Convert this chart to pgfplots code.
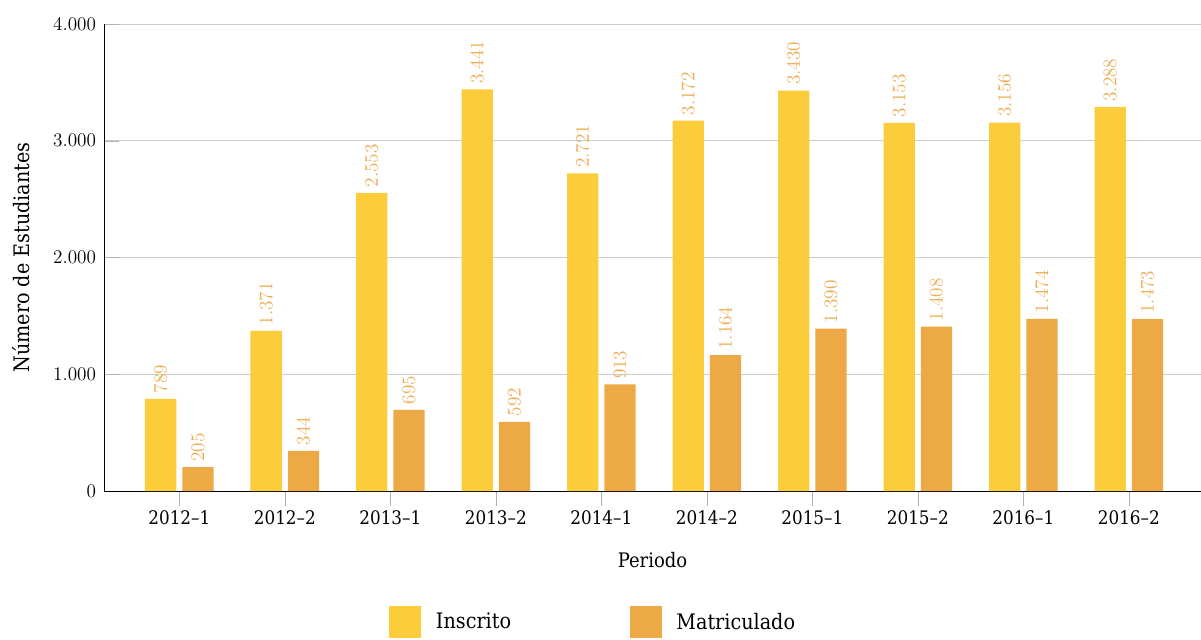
\documentclass[border=0pt]{standalone}
\usepackage{fontspec}
\usepackage{pgfplots}
\pgfplotsset{compat=1.18}
\newfontfamily\slab{DejaVu Serif Condensed}
\definecolor{inscrito}{RGB}{252,205,58}
\definecolor{matric}{RGB}{236,169,69}
\definecolor{vlabel}{RGB}{236,172,80}
\begin{document}
\begin{tikzpicture}
\begin{axis}[
    scale only axis,
    width=822.75pt,
    height=350.25pt,
    ybar=4.5pt,
    bar width=23.5pt,
    xmin=-0.714, xmax=9.684,
    ymin=0, ymax=4000,
    xtick=data,
    xticklabels={2012–1,2012–2,2013–1,2013–2,2014–1,2014–2,2015–1,2015–2,2016–1,2016–2},
    ytick={0,1000,2000,3000,4000},
    scaled y ticks=false,
    axis x line*=bottom,
    axis y line*=left,
    axis line style={black, -},
    tick align=inside,
    major tick length=11pt,
    y tick style={black!30},
    x tick style={black!30, yshift=-11pt},
    ymajorgrids=true,
    grid style={black!20},
    x tick label style={font=\slab\fontsize{14}{16}\selectfont, yshift=-11pt},
    y tick label style={font=\fontsize{14.5}{16}\selectfont, xshift=-2.5pt},
    xlabel={\slab Periodo},
    ylabel={\slab Número de Estudiantes},
    xlabel style={font=\fontsize{15}{17}\selectfont, at={(rel axis cs:0.5,-0.1485)}, anchor=center},
    ylabel style={font=\fontsize{16}{18}\selectfont, at={(rel axis cs:-0.0754,0.5)}, anchor=center},
    nodes near coords,
    nodes near coords style={rotate=90, anchor=west, inner sep=4pt, font=\fontsize{13.5}{15}\selectfont, text=vlabel},
    legend columns=2,
    legend style={at={(rel axis cs:0.4450,-0.2805)}, anchor=center, draw=none,
        column sep=11pt, font=\slab\fontsize{16}{18}\selectfont,
        nodes={inner sep=0pt}},
    legend image code/.code={\fill[#1, draw=none] (0pt,-12pt) rectangle (24pt,12pt);},
    /pgf/number format/1000 sep={.},
]
\addplot[fill=inscrito, draw=none] coordinates {
    (0,789) (1,1371) (2,2553) (3,3441) (4,2721)
    (5,3172) (6,3430) (7,3153) (8,3156) (9,3288)
};
\addlegendentry{Inscrito\rule{78pt}{0pt}}
\addplot[fill=matric, draw=none] coordinates {
    (0,205) (1,344) (2,695) (3,592) (4,913)
    (5,1164) (6,1390) (7,1408) (8,1474) (9,1473)
};
\addlegendentry{Matriculado}
\end{axis}
\pgfresetboundingbox
\path[use as bounding box] (-78pt,-111pt) rectangle (822.75pt,368.25pt);
\end{tikzpicture}
\end{document}
